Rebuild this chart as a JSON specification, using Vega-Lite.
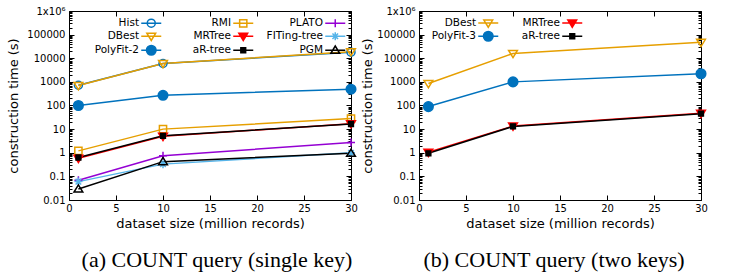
{
  "$schema": "https://vega.github.io/schema/vega-lite/v6.json",
  "background": "white",
  "padding": {"left": 7, "top": 5, "right": 5, "bottom": 5},
  "spacing": 1,
  "config": {
    "view": {"stroke": "black", "strokeWidth": 1},
    "font": "DejaVu Sans",
    "axis": {"grid": false, "domain": false, "labelFont": "DejaVu Sans", "labelFontSize": 10, "labelColor": "black", "titleFont": "DejaVu Sans", "titleFontSize": 13, "titleFontWeight": "normal", "titleColor": "black", "tickColor": "black", "labelOverlap": false, "labelFlush": false},
    "legend": {"labelFont": "DejaVu Sans", "labelFontSize": 10.5, "labelColor": "black", "labelAlign": "right", "labelOffset": -17.5, "symbolSize": 64, "symbolStrokeWidth": 1.5, "symbolOpacity": 1, "gridAlign": "all", "rowPadding": -5.5, "padding": 0, "labelLimit": 0}
  },
  "datasets": {
    "a": [
      {"s": "Hist", "x": 1, "t": 720}, {"s": "Hist", "x": 10, "t": 6000}, {"s": "Hist", "x": 30, "t": 18000},
      {"s": "DBest", "x": 1, "t": 700}, {"s": "DBest", "x": 10, "t": 6000}, {"s": "DBest", "x": 30, "t": 19000},
      {"s": "PolyFit-2", "x": 1, "t": 100}, {"s": "PolyFit-2", "x": 10, "t": 270}, {"s": "PolyFit-2", "x": 30, "t": 490},
      {"s": "RMI", "x": 1, "t": 1.2}, {"s": "RMI", "x": 10, "t": 10}, {"s": "RMI", "x": 30, "t": 28},
      {"s": "MRTree", "x": 1, "t": 0.58}, {"s": "MRTree", "x": 10, "t": 5.0}, {"s": "MRTree", "x": 30, "t": 17},
      {"s": "aR-tree", "x": 1, "t": 0.63}, {"s": "aR-tree", "x": 10, "t": 5.2}, {"s": "aR-tree", "x": 30, "t": 16.5},
      {"s": "PLATO", "x": 1, "t": 0.068}, {"s": "PLATO", "x": 10, "t": 0.75}, {"s": "PLATO", "x": 30, "t": 2.7},
      {"s": "FITing-tree", "x": 1, "t": 0.06}, {"s": "FITing-tree", "x": 10, "t": 0.33}, {"s": "FITing-tree", "x": 30, "t": 1.0},
      {"s": "PGM", "x": 1, "t": 0.029}, {"s": "PGM", "x": 10, "t": 0.42}, {"s": "PGM", "x": 30, "t": 0.95}
    ],
    "b": [
      {"s": "DBest", "x": 1, "t": 850}, {"s": "DBest", "x": 10, "t": 16000}, {"s": "DBest", "x": 30, "t": 47000},
      {"s": "PolyFit-3", "x": 1, "t": 90}, {"s": "PolyFit-3", "x": 10, "t": 1000}, {"s": "PolyFit-3", "x": 30, "t": 2200},
      {"s": "MRTree", "x": 1, "t": 1.05}, {"s": "MRTree", "x": 10, "t": 13.5}, {"s": "MRTree", "x": 30, "t": 47},
      {"s": "aR-tree", "x": 1, "t": 0.95}, {"s": "aR-tree", "x": 10, "t": 13}, {"s": "aR-tree", "x": 30, "t": 45}
    ]
  },
  "hconcat": [
    {
      "width": 282,
      "height": 189,
      "data": {"name": "a"},
      "title": {"text": "(a) COUNT query (single key)", "orient": "bottom", "frame": "group", "anchor": "middle", "font": "Liberation Serif", "fontSize": 22, "fontWeight": "normal", "color": "black", "offset": 20, "dx": 7},
      "layer": [
        {
          "mark": {"type": "line", "strokeWidth": 1.5},
          "encoding": {
            "x": {"field": "x", "type": "quantitative", "scale": {"domain": [0, 30], "nice": false, "zero": false}, "axis": {"orient": "bottom", "values": [0, 5, 10, 15, 20, 25, 30], "tickSize": -5, "labelPadding": 8, "title": "dataset size (million records)", "titlePadding": 4}},
            "y": {"field": "t", "type": "quantitative", "scale": {"type": "log", "domain": [0.01, 1000000], "nice": false}, "axis": {"orient": "left", "values": [0.01, 0.1, 1, 10, 100, 1000, 10000, 100000, 1000000], "labelExpr": "datum.value == 1000000 ? '1x10⁶' : datum.value >= 1 ? format(datum.value, 'd') : format(datum.value, '.2~f')", "tickSize": -5, "labelPadding": 9, "title": "construction time (s)", "titlePadding": 6}},
            "stroke": {"field": "s", "type": "nominal", "scale": {"domain": ["Hist", "DBest", "PolyFit-2", "RMI", "MRTree", "aR-tree", "PLATO", "FITing-tree", "PGM"], "range": ["#0072bd", "#e69f00", "#0072bd", "#e69f00", "#ff0000", "#000000", "#9400d3", "#56b4e9", "#000000"]}, "legend": null}
          }
        },
        {
          "mark": {"type": "point", "filled": true, "size": 64, "strokeWidth": 1.5, "opacity": 1},
          "encoding": {
            "x": {"field": "x", "type": "quantitative", "axis": {"orient": "top", "values": [0, 5, 10, 15, 20, 25, 30], "tickSize": -5, "labels": false, "title": null}},
            "y": {"field": "t", "type": "quantitative", "axis": {"orient": "right", "values": [0.01, 0.1, 1, 10, 100, 1000, 10000, 100000, 1000000], "tickSize": -5, "labels": false, "title": null}},
            "stroke": {"field": "s", "type": "nominal", "scale": {"domain": ["Hist", "DBest", "PolyFit-2", "RMI", "MRTree", "aR-tree", "PLATO", "FITing-tree", "PGM"], "range": ["#0072bd", "#e69f00", "#0072bd", "#e69f00", "#ff0000", "#000000", "#9400d3", "#56b4e9", "#000000"]}, "legend": null},
            "fill": {"field": "s", "type": "nominal", "scale": {"domain": ["Hist", "DBest", "PolyFit-2", "RMI", "MRTree", "aR-tree", "PLATO", "FITing-tree", "PGM"], "range": ["transparent", "transparent", "#0072bd", "transparent", "#ff0000", "#000000", "transparent", "transparent", "transparent"]}, "legend": null},
            "shape": {"field": "s", "type": "nominal", "scale": {"domain": ["Hist", "DBest", "PolyFit-2", "RMI", "MRTree", "aR-tree", "PLATO", "FITing-tree", "PGM"], "range": ["M1,0A1,1,0,1,1,-1,0A1,1,0,1,1,1,0Z", "M-1.1,-0.75L1.1,-0.75L0,1.05Z", "M1.2,0A1.2,1.2,0,1,1,-1.2,0A1.2,1.2,0,1,1,1.2,0Z", "M-0.9,-0.9H0.9V0.9H-0.9Z", "M-1.1,-0.75L1.1,-0.75L0,1.05Z", "M-0.6,-0.6H0.6V0.6H-0.6Z", "M-1,0H1M0,-1V1", "M-1,0H1M0,-1V1M-0.7,-0.7L0.7,0.7M-0.7,0.7L0.7,-0.7", "M-1.1,0.75L1.1,0.75L0,-1.05Z"]}, "legend": null}
          }
        },
        {
          "mark": {"type": "point", "filled": true, "size": 0, "strokeWidth": 1.5, "opacity": 1},
          "encoding": {
            "x": {"field": "x", "type": "quantitative", "axis": null},
            "y": {"field": "t", "type": "quantitative", "axis": {"orient": "left", "values": [0.02, 0.03, 0.04, 0.05, 0.06, 0.07, 0.08, 0.09, 0.2, 0.3, 0.4, 0.5, 0.6, 0.7, 0.8, 0.9, 2, 3, 4, 5, 6, 7, 8, 9, 20, 30, 40, 50, 60, 70, 80, 90, 200, 300, 400, 500, 600, 700, 800, 900, 2000, 3000, 4000, 5000, 6000, 7000, 8000, 9000, 20000, 30000, 40000, 50000, 60000, 70000, 80000, 90000, 200000, 300000, 400000, 500000, 600000, 700000, 800000, 900000], "tickSize": -3, "labels": false, "title": null}},
            "stroke": {"field": "s", "type": "nominal", "scale": {"domain": ["Hist", "DBest", "PolyFit-2", "RMI", "MRTree", "aR-tree", "PLATO", "FITing-tree", "PGM"], "range": ["#0072bd", "#e69f00", "#0072bd", "#e69f00", "#ff0000", "#000000", "#9400d3", "#56b4e9", "#000000"]}, "legend": {"title": null, "orient": "none", "legendX": 7, "legendY": 6, "columns": 3, "symbolOffset": 70, "columnPadding": 3}},
            "fill": {"field": "s", "type": "nominal", "scale": {"domain": ["Hist", "DBest", "PolyFit-2", "RMI", "MRTree", "aR-tree", "PLATO", "FITing-tree", "PGM"], "range": ["transparent", "transparent", "#0072bd", "transparent", "#ff0000", "#000000", "transparent", "transparent", "transparent"]}, "legend": {"title": null, "orient": "none", "legendX": 7, "legendY": 6, "columns": 3, "symbolOffset": 70, "columnPadding": 3}},
            "shape": {"field": "s", "type": "nominal", "scale": {"domain": ["Hist", "DBest", "PolyFit-2", "RMI", "MRTree", "aR-tree", "PLATO", "FITing-tree", "PGM"], "range": ["M-2.5,0H2.5M1,0A1,1,0,1,1,-1,0A1,1,0,1,1,1,0Z", "M-2.5,0H2.5M-1.1,-0.75L1.1,-0.75L0,1.05Z", "M-2.5,0H2.5M1.2,0A1.2,1.2,0,1,1,-1.2,0A1.2,1.2,0,1,1,1.2,0Z", "M-2.5,0H2.5M-0.9,-0.9H0.9V0.9H-0.9Z", "M-2.5,0H2.5M-1.1,-0.75L1.1,-0.75L0,1.05Z", "M-2.5,0H2.5M-0.6,-0.6H0.6V0.6H-0.6Z", "M-2.5,0H2.5M0,-1V1", "M-2.5,0H2.5M0,-1V1M-0.7,-0.7L0.7,0.7M-0.7,0.7L0.7,-0.7", "M-2.5,0H2.5M-1.1,0.75L1.1,0.75L0,-1.05Z"]}, "legend": {"title": null, "orient": "none", "legendX": 7, "legendY": 6, "columns": 3, "symbolOffset": 70, "columnPadding": 3}}
          }
        },
        {
          "mark": {"type": "point", "size": 0},
          "encoding": {
            "x": {"field": "x", "type": "quantitative", "axis": null},
            "y": {"field": "t", "type": "quantitative", "axis": {"orient": "right", "values": [0.02, 0.03, 0.04, 0.05, 0.06, 0.07, 0.08, 0.09, 0.2, 0.3, 0.4, 0.5, 0.6, 0.7, 0.8, 0.9, 2, 3, 4, 5, 6, 7, 8, 9, 20, 30, 40, 50, 60, 70, 80, 90, 200, 300, 400, 500, 600, 700, 800, 900, 2000, 3000, 4000, 5000, 6000, 7000, 8000, 9000, 20000, 30000, 40000, 50000, 60000, 70000, 80000, 90000, 200000, 300000, 400000, 500000, 600000, 700000, 800000, 900000], "tickSize": -3, "labels": false, "title": null}}
          }
        }
      ],
      "resolve": {"scale": {"shape": "independent", "stroke": "independent", "fill": "independent"}, "axis": {"x": "independent", "y": "independent"}}
    },
    {
      "width": 282,
      "height": 189,
      "data": {"name": "b"},
      "title": {"text": "(b) COUNT query (two keys)", "orient": "bottom", "frame": "group", "anchor": "middle", "font": "Liberation Serif", "fontSize": 22, "fontWeight": "normal", "color": "black", "offset": 20, "dx": -6},
      "layer": [
        {
          "mark": {"type": "line", "strokeWidth": 1.5},
          "encoding": {
            "x": {"field": "x", "type": "quantitative", "scale": {"domain": [0, 30], "nice": false, "zero": false}, "axis": {"orient": "bottom", "values": [0, 5, 10, 15, 20, 25, 30], "tickSize": -5, "labelPadding": 8, "title": "dataset size (million records)", "titlePadding": 4}},
            "y": {"field": "t", "type": "quantitative", "scale": {"type": "log", "domain": [0.01, 1000000], "nice": false}, "axis": {"orient": "left", "values": [0.01, 0.1, 1, 10, 100, 1000, 10000, 100000, 1000000], "labelExpr": "datum.value == 1000000 ? '1x10⁶' : datum.value >= 1 ? format(datum.value, 'd') : format(datum.value, '.2~f')", "tickSize": -5, "labelPadding": 9, "title": "construction time (s)", "titlePadding": 2}},
            "stroke": {"field": "s", "type": "nominal", "scale": {"domain": ["DBest", "PolyFit-3", "MRTree", "aR-tree"], "range": ["#e69f00", "#0072bd", "#ff0000", "#000000"]}, "legend": null}
          }
        },
        {
          "mark": {"type": "point", "filled": true, "size": 64, "strokeWidth": 1.5, "opacity": 1},
          "encoding": {
            "x": {"field": "x", "type": "quantitative", "axis": {"orient": "top", "values": [0, 5, 10, 15, 20, 25, 30], "tickSize": -5, "labels": false, "title": null}},
            "y": {"field": "t", "type": "quantitative", "axis": {"orient": "right", "values": [0.01, 0.1, 1, 10, 100, 1000, 10000, 100000, 1000000], "tickSize": -5, "labels": false, "title": null}},
            "stroke": {"field": "s", "type": "nominal", "scale": {"domain": ["DBest", "PolyFit-3", "MRTree", "aR-tree"], "range": ["#e69f00", "#0072bd", "#ff0000", "#000000"]}, "legend": null},
            "fill": {"field": "s", "type": "nominal", "scale": {"domain": ["DBest", "PolyFit-3", "MRTree", "aR-tree"], "range": ["transparent", "#0072bd", "#ff0000", "#000000"]}, "legend": null},
            "shape": {"field": "s", "type": "nominal", "scale": {"domain": ["DBest", "PolyFit-3", "MRTree", "aR-tree"], "range": ["M-1.1,-0.75L1.1,-0.75L0,1.05Z", "M1.2,0A1.2,1.2,0,1,1,-1.2,0A1.2,1.2,0,1,1,1.2,0Z", "M-1.1,-0.75L1.1,-0.75L0,1.05Z", "M-0.6,-0.6H0.6V0.6H-0.6Z"]}, "legend": null}
          }
        },
        {
          "mark": {"type": "point", "filled": true, "size": 0, "strokeWidth": 1.5, "opacity": 1},
          "encoding": {
            "x": {"field": "x", "type": "quantitative", "axis": null},
            "y": {"field": "t", "type": "quantitative", "axis": {"orient": "left", "values": [0.02, 0.03, 0.04, 0.05, 0.06, 0.07, 0.08, 0.09, 0.2, 0.3, 0.4, 0.5, 0.6, 0.7, 0.8, 0.9, 2, 3, 4, 5, 6, 7, 8, 9, 20, 30, 40, 50, 60, 70, 80, 90, 200, 300, 400, 500, 600, 700, 800, 900, 2000, 3000, 4000, 5000, 6000, 7000, 8000, 9000, 20000, 30000, 40000, 50000, 60000, 70000, 80000, 90000, 200000, 300000, 400000, 500000, 600000, 700000, 800000, 900000], "tickSize": -3, "labels": false, "title": null}},
            "stroke": {"field": "s", "type": "nominal", "scale": {"domain": ["DBest", "PolyFit-3", "MRTree", "aR-tree"], "range": ["#e69f00", "#0072bd", "#ff0000", "#000000"]}, "legend": {"title": null, "orient": "none", "legendX": 4, "legendY": 6, "columns": 2, "symbolOffset": 60, "columnPadding": 5}},
            "fill": {"field": "s", "type": "nominal", "scale": {"domain": ["DBest", "PolyFit-3", "MRTree", "aR-tree"], "range": ["transparent", "#0072bd", "#ff0000", "#000000"]}, "legend": {"title": null, "orient": "none", "legendX": 4, "legendY": 6, "columns": 2, "symbolOffset": 60, "columnPadding": 5}},
            "shape": {"field": "s", "type": "nominal", "scale": {"domain": ["DBest", "PolyFit-3", "MRTree", "aR-tree"], "range": ["M-2.5,0H2.5M-1.1,-0.75L1.1,-0.75L0,1.05Z", "M-2.5,0H2.5M1.2,0A1.2,1.2,0,1,1,-1.2,0A1.2,1.2,0,1,1,1.2,0Z", "M-2.5,0H2.5M-1.1,-0.75L1.1,-0.75L0,1.05Z", "M-2.5,0H2.5M-0.6,-0.6H0.6V0.6H-0.6Z"]}, "legend": {"title": null, "orient": "none", "legendX": 4, "legendY": 6, "columns": 2, "symbolOffset": 60, "columnPadding": 5}}
          }
        },
        {
          "mark": {"type": "point", "size": 0},
          "encoding": {
            "x": {"field": "x", "type": "quantitative", "axis": null},
            "y": {"field": "t", "type": "quantitative", "axis": {"orient": "right", "values": [0.02, 0.03, 0.04, 0.05, 0.06, 0.07, 0.08, 0.09, 0.2, 0.3, 0.4, 0.5, 0.6, 0.7, 0.8, 0.9, 2, 3, 4, 5, 6, 7, 8, 9, 20, 30, 40, 50, 60, 70, 80, 90, 200, 300, 400, 500, 600, 700, 800, 900, 2000, 3000, 4000, 5000, 6000, 7000, 8000, 9000, 20000, 30000, 40000, 50000, 60000, 70000, 80000, 90000, 200000, 300000, 400000, 500000, 600000, 700000, 800000, 900000], "tickSize": -3, "labels": false, "title": null}}
          }
        }
      ],
      "resolve": {"scale": {"shape": "independent", "stroke": "independent", "fill": "independent"}, "axis": {"x": "independent", "y": "independent"}}
    }
  ]
}
